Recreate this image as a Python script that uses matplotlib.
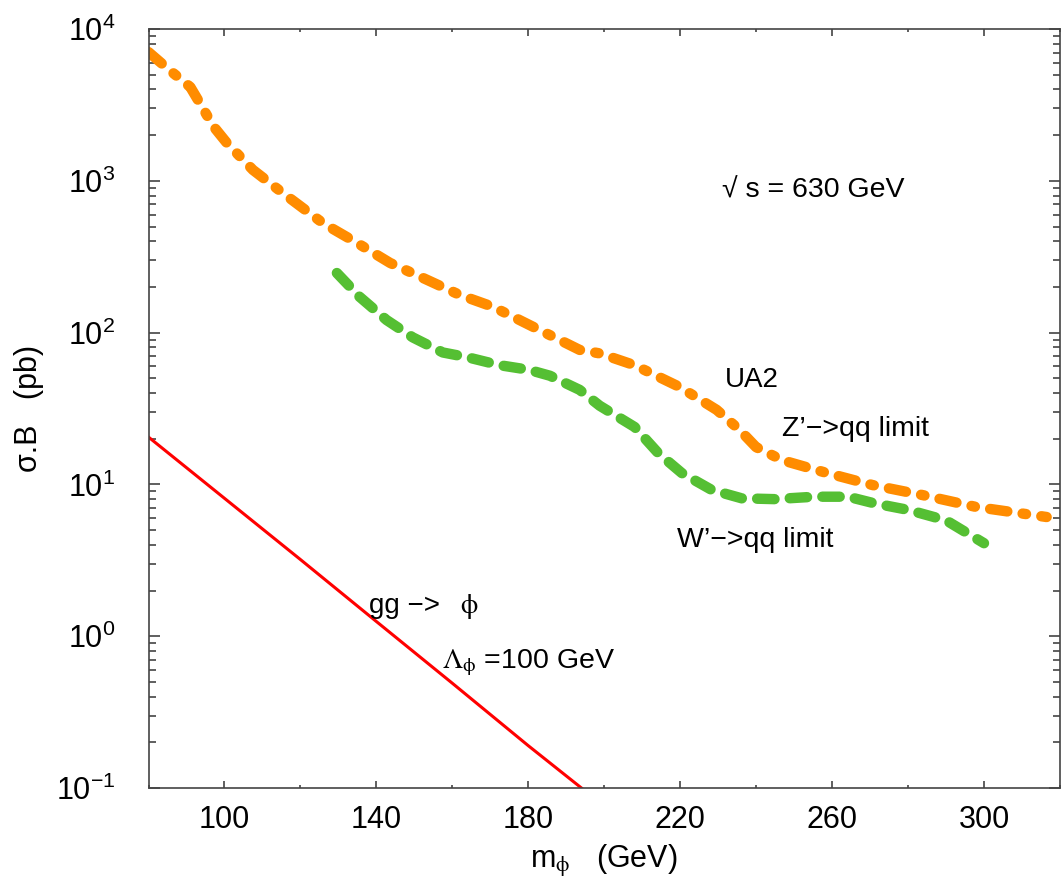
import matplotlib
matplotlib.use("Agg")
import matplotlib.pyplot as plt
import matplotlib.ticker as mticker

plt.rcParams['font.family'] = ['Liberation Sans', 'DejaVu Sans']
plt.rcParams['mathtext.fontset'] = 'stix'
plt.rcParams['lines.scale_dashes'] = False

# UA2 Z'->qq limit (orange)
z_mass = [80, 85, 91, 94, 97, 100.6, 107.5, 115.4, 126, 134.9, 143.6, 152.3, 162, 170.7,
          180.4, 193.5, 198.8, 208, 219.9, 229.6, 235.7, 240, 247, 258.6, 270.7, 283.9, 298, 316.5]
z_xsec = [7050, 5500, 4150, 3100, 2300, 1780, 1180, 830, 525, 390, 288, 229, 177, 148,
          112, 77, 73, 61, 43.8, 31, 22.8, 17.6, 14.4, 11.9, 9.9, 8.5, 7.1, 6.1]

# UA2 W'->qq limit (green)
w_mass = [129.6, 135.6, 142.7, 149.6, 157.5, 163.8, 172.5, 180, 185.7, 193.5, 198.8, 208,
          214.2, 220.4, 228.3, 236.2, 244.9, 255.4, 264.2, 271.2, 280, 290, 300]
w_xsec = [247, 172, 121, 93, 74, 69, 61, 57, 52, 42, 33, 23.9,
          16.1, 11.9, 9.2, 8.1, 8.0, 8.3, 8.3, 7.5, 6.8, 5.8, 4.1]

# gg -> phi, Lambda_phi = 100 GeV (red)
phi_mass = [80, 100, 120, 140, 160, 180, 194]
phi_xsec = [20.5, 8.1, 3.2, 1.25, 0.49, 0.19, 0.1]

fig = plt.figure(figsize=(10.61, 8.86), dpi=100)
ax = fig.add_axes([0.140, 0.1106, 0.859, 0.8566])

ax.plot(z_mass, z_xsec, color='#ff8c00', lw=7.5, dash_capstyle='round',
        dashes=(12.5, 11.1, 2.5, 11.1))
ax.plot(w_mass, w_xsec, color='#55bf33', lw=7.5, dash_capstyle='round',
        dashes=(12.5, 11.0))
ax.plot(phi_mass, phi_xsec, color='red', lw=2.2)

ax.set_yscale('log')
ax.set_xlim(80, 320)
ax.set_ylim(0.1, 1e4)
ax.set_xticks([100, 140, 180, 220, 260, 300])
ax.xaxis.set_minor_locator(mticker.MultipleLocator(20))
ax.yaxis.set_minor_locator(mticker.LogLocator(base=10, subs=range(2, 10), numticks=20))
ax.yaxis.set_minor_formatter(mticker.NullFormatter())

for s in ax.spines.values():
    s.set_color('#444444')
    s.set_linewidth(1.2)
ax.tick_params(which='both', direction='in', top=True, right=True, color='#444444', width=1.2)
ax.tick_params(axis='y', which='major', length=8, labelsize=22, pad=24)
ax.tick_params(axis='y', which='minor', length=5)
ax.tick_params(axis='x', which='major', length=5, labelsize=22, pad=12)
ax.tick_params(axis='x', which='minor', length=2.5)

ax.set_xlabel(r'm$_{\mathrm{\phi}}$   (GeV)', fontsize=22)
ax.set_ylabel('σ.B   (pb)', fontsize=22)
ax.xaxis.set_label_coords(0.5, -0.072)
ax.yaxis.set_label_coords(-0.115, 0.5)

ax.text(230.9, 781, '√ s = 630 GeV', fontsize=20.5)
ax.text(231.7, 43.9, 'UA2', fontsize=20)
ax.text(246.7, 20.8, 'Z’−>qq limit', fontsize=20.5)
ax.text(219.1, 3.87, 'W’−>qq limit', fontsize=20.5)
ax.text(138.0, 1.42, 'gg −>', fontsize=20)
ax.text(162.0, 1.42, r'$\mathrm{\phi}$', fontsize=20)
ax.text(157.2, 0.618, r'$\mathrm{\Lambda}_{\mathrm{\phi}}$ =100 GeV', fontsize=20.5)

fig.savefig('out.png', dpi=100)
